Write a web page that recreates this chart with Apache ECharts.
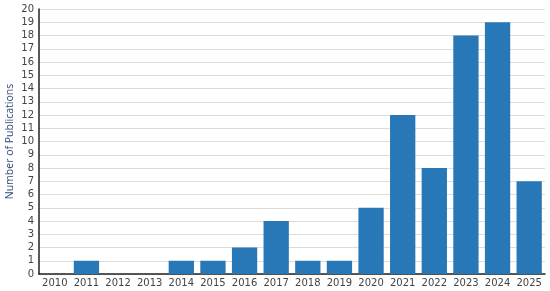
<!DOCTYPE html>
<html><head><meta charset="utf-8">
<script src="https://cdn.jsdelivr.net/npm/echarts@6/dist/echarts.min.js"></script>
<style>html,body{margin:0;padding:0;background:#fff}#c{width:550px;height:291px}</style>
</head><body><div id="c"></div>
<script>
var years = ['2010','2011','2012','2013','2014','2015','2016','2017','2018','2019','2020','2021','2022','2023','2024','2025'];
var publications = [0,1,0,0,1,1,2,4,1,1,5,12,8,18,19,7];
var chart = echarts.init(document.getElementById('c'), null, {renderer:'canvas'});
chart.setOption({
  animation:false,
  grid:{left:39,right:5,top:9,bottom:17,containLabel:false,outerBoundsMode:'none'},
  xAxis:{type:'category',data:years,
    axisLine:{lineStyle:{color:'#222',width:1.5}},
    axisTick:{show:false},
    axisLabel:{color:'#444',fontFamily:'DejaVu Sans',fontSize:10,margin:4,interval:0}},
  yAxis:{type:'value',min:0,max:20,interval:1,
    name:'Number of Publications',nameLocation:'middle',nameGap:23,nameMoveOverlap:false,
    nameTextStyle:{color:'#34497a',fontFamily:'Open Sans',fontSize:10.5},
    axisLine:{show:true,lineStyle:{color:'#222',width:1.5}},
    axisTick:{show:false},
    axisLabel:{color:'#444',fontFamily:'DejaVu Sans',fontSize:10,margin:5},
    splitLine:{lineStyle:{color:'#dcdcdc',width:1}}},
  series:[{type:'bar',data:publications,barWidth:'80%',
    itemStyle:{color:'#2878b8'}}]
});
</script></body></html>
